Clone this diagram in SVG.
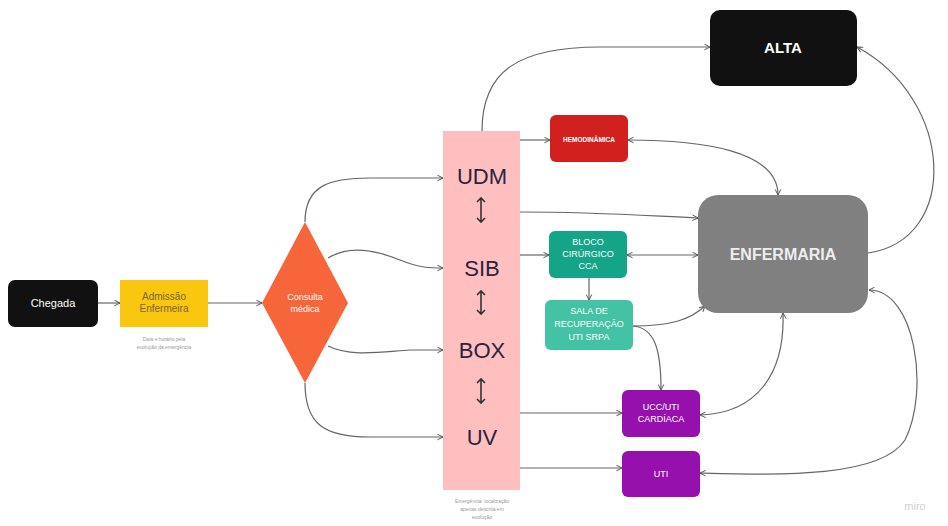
<svg xmlns="http://www.w3.org/2000/svg" width="948" height="526" viewBox="0 0 948 526">
<defs>
<marker id="ah" viewBox="0 0 10 10" refX="9" refY="5" markerWidth="7" markerHeight="7" orient="auto-start-reverse" markerUnits="userSpaceOnUse">
<path d="M1,1 L9,5 L1,9" fill="none" stroke="#555" stroke-width="1.4"/>
</marker>
<marker id="dh" viewBox="0 0 10 10" refX="9" refY="5" markerWidth="8" markerHeight="8" orient="auto-start-reverse" markerUnits="userSpaceOnUse">
<path d="M2,1 L9,5 L2,9" fill="none" stroke="#333" stroke-width="1.6"/>
</marker>
</defs>
<style>
text{font-family:"Liberation Sans",Arial,sans-serif;text-anchor:middle}
.c{fill:none;stroke:#666;stroke-width:1.2}
.w{fill:#fff}
.lab{fill:#2a2340;font-size:22px}
.cap{fill:#9a9a9a;font-size:5px}
.sm{font-size:9px;fill:#fff}
.da{stroke:#333;stroke-width:1.6;fill:none}
</style>
<rect width="948" height="526" fill="#fff"/>
<g id="connectors">
<path class="c" d="M98,303 H120" marker-end="url(#ah)"/>
<path class="c" d="M208,303 H262" marker-end="url(#ah)"/>
<path class="c" d="M305,222 C305,185 330,178 370,178 H443" marker-end="url(#ah)"/>
<path class="c" d="M328,258 C350,245 375,250 400,260 C420,268 430,268 443,268" marker-end="url(#ah)"/>
<path class="c" d="M328,346 C350,357 380,352 410,350 H443" marker-end="url(#ah)"/>
<path class="c" d="M305,383 C305,425 325,437 370,437 H443" marker-end="url(#ah)"/>
<path class="c" d="M482,131 C482,70 520,47 600,47 H710" marker-end="url(#ah)"/>
<path class="c" d="M520,140 H550" marker-end="url(#ah)"/>
<path class="c" d="M628,140 C700,140 778,150 778,195" marker-start="url(#ah)" marker-end="url(#ah)"/>
<path class="c" d="M868,253 C960,240 955,100 857,47" marker-end="url(#ah)"/>
<path class="c" d="M520,212 C600,212 650,216 698,218" marker-end="url(#ah)"/>
<path class="c" d="M520,255 H549" marker-end="url(#ah)"/>
<path class="c" d="M627,255 H698" marker-start="url(#ah)" marker-end="url(#ah)"/>
<path class="c" d="M589,278 V300" marker-end="url(#ah)"/>
<path class="c" d="M633,326 C670,326 690,320 705,306" marker-end="url(#ah)"/>
<path class="c" d="M633,326 C655,328 661,350 661,390" marker-end="url(#ah)"/>
<path class="c" d="M520,413 H622" marker-end="url(#ah)"/>
<path class="c" d="M700,415 C760,413 785,370 783,313" marker-start="url(#ah)" marker-end="url(#ah)"/>
<path class="c" d="M520,468 H622" marker-end="url(#ah)"/>
<path class="c" d="M700,473 C780,475 880,478 905,440 C930,390 915,290 869,290" marker-start="url(#ah)" marker-end="url(#ah)"/>
</g>
<g id="chegada">
<rect x="8" y="280" width="90" height="47" rx="7" fill="#111"/>
<text x="53" y="307" class="w" font-size="11">Chegada</text>
</g>
<g id="admissao">
<rect x="120" y="280" width="88" height="47" fill="#FAC710"/>
<text x="164" y="300" fill="#7a6330" font-size="10">Admissão</text>
<text x="164" y="312" fill="#7a6330" font-size="10">Enfermeira</text>
<text x="164" y="341" class="cap">Data e horário pela</text>
<text x="164" y="349" class="cap">evolução da emergência</text>
</g>
<g id="consulta">
<polygon points="305,222 348,303 305,383 262,303" fill="#F7653A"/>
<text x="305" y="300" class="w" font-size="9">Consulta</text>
<text x="305" y="312" class="w" font-size="9">médica</text>
</g>
<g id="emergencia">
<rect x="443" y="131" width="77" height="359" fill="#FFBFBF"/>
<text x="482" y="184" class="lab">UDM</text>
<text x="482" y="276" class="lab">SIB</text>
<text x="482" y="358" class="lab">BOX</text>
<text x="482" y="445" class="lab">UV</text>
<path class="da" d="M481,198 V222 M477,202 L481,198 L485,202 M477,218 L481,222 L485,218"/>
<path class="da" d="M481,291 V314 M477,295 L481,291 L485,295 M477,310 L481,314 L485,310"/>
<path class="da" d="M481,379 V403 M477,383 L481,379 L485,383 M477,399 L481,403 L485,399"/>
<text x="482" y="503" class="cap">Emergência: localização</text>
<text x="482" y="511" class="cap">apenas descrita em</text>
<text x="482" y="519" class="cap">evolução</text>
</g>
<g id="alta">
<rect x="710" y="10" width="147" height="76" rx="10" fill="#111"/>
<text x="783" y="53" class="w" font-size="15" font-weight="bold">ALTA</text>
</g>
<g id="hemodinamica">
<rect x="550" y="115" width="78" height="47" rx="6" fill="#D2201E"/>
<text x="589" y="142" class="w" font-size="6.5" font-weight="bold">HEMODINÂMICA</text>
</g>
<g id="enfermaria">
<rect x="698" y="195" width="170" height="118" rx="20" fill="#808080"/>
<text x="783" y="260" fill="#eee" font-size="16" font-weight="bold">ENFERMARIA</text>
</g>
<g id="bloco">
<rect x="549" y="231" width="78" height="47" rx="6" fill="#14A589"/>
<text x="588" y="245" class="sm">BLOCO</text>
<text x="588" y="257" class="sm">CIRÚRGICO</text>
<text x="588" y="269" class="sm">CCA</text>
</g>
<g id="sala">
<rect x="545" y="300" width="88" height="50" rx="6" fill="#44C3A4"/>
<text x="589" y="314" class="sm">SALA DE</text>
<text x="589" y="327" class="sm">RECUPERAÇÃO</text>
<text x="589" y="340" class="sm">UTI SRPA</text>
</g>
<g id="ucc">
<rect x="622" y="390" width="78" height="47" rx="6" fill="#9510AC"/>
<text x="661" y="410" class="sm">UCC/UTI</text>
<text x="661" y="422" class="sm">CARDÍACA</text>
</g>
<g id="uti">
<rect x="622" y="451" width="78" height="46" rx="6" fill="#9510AC"/>
<text x="661" y="477" class="sm">UTI</text>
</g>
<text x="915" y="510" fill="#d0d0d0" font-size="11">miro</text>
</svg>
